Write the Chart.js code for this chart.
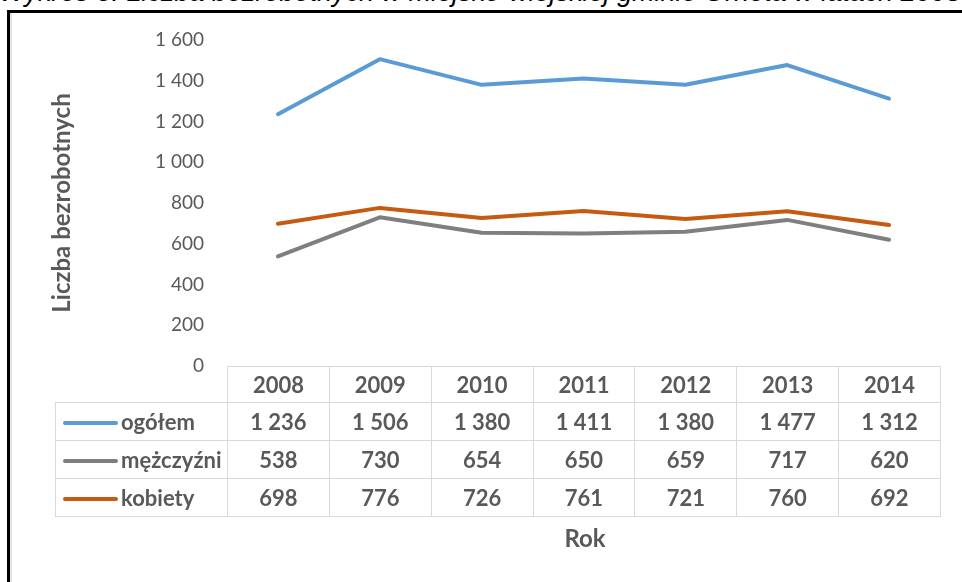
<!DOCTYPE html>
<html lang="pl">
<head>
<meta charset="utf-8">
<script src="https://cdn.jsdelivr.net/npm/chart.js@4"></script>
<style>
  body { margin:0; width:962px; height:582px; overflow:hidden; position:relative; background:#fff; font-family:Lato, sans-serif; }
  #title { position:absolute; left:-1px; top:-21px; font:italic 27px/27px "Liberation Sans", Arial, sans-serif; color:#000; white-space:nowrap; }
  #frame { position:absolute; left:7px; top:10px; width:1000px; height:620px; border-left:3px solid #000; border-top:3px solid #000; box-shadow: inset 2px 0 0 #e2e2e2; }
  #chart { position:absolute; left:0; top:0; }
  #tbl { position:absolute; left:55px; top:366px; border-collapse:collapse; table-layout:fixed; color:#595959; font-weight:700; font-size:22px; }
  #tbl td { border:1px solid #d9d9d9; text-align:center; padding:0; }
  #tbl tr.head td { height:35px; }
  #tbl tr.row td { height:37px; }
  #tbl td.lab { text-align:left; padding-left:7px; white-space:nowrap; }
  #tbl tr.head td.lab { border-top:none; border-left:none; }
  .swatch { display:inline-block; width:55px; height:4px; border-radius:2px; vertical-align:middle; margin-right:3px; position:relative; top:-1px; }
  #rok { position:absolute; left:535px; width:100px; top:523px; text-align:center; color:#595959; font-weight:700; font-size:24px; }
</style>
</head>
<body>
<div id="title">Wykres 3. Liczba bezrobotnych w miejsko-wiejskiej gminie Orneta w latach 2008–2014</div>
<div id="frame"></div>
<canvas id="chart" width="962" height="582"></canvas>
<table id="tbl"></table>
<div id="rok">Rok</div>
<script>
// dane z wykresu
const years = ['2008', '2009', '2010', '2011', '2012', '2013', '2014'];
const ogolem = [1236, 1506, 1380, 1411, 1380, 1477, 1312];
const mezczyzni = [538, 730, 654, 650, 659, 717, 620];
const kobiety = [698, 776, 726, 761, 721, 760, 692];
const seriesNames = ['ogółem', 'mężczyźni', 'kobiety'];
const seriesColors = ['#5b9bd5', '#7f7f7f', '#c55a11'];

function fmt(v) {
    // separator tysięcy: spacja
    return String(v).replace(/\B(?=(\d{3})+(?!\d))/g, ' ');
}

const allSeries = [ogolem, mezczyzni, kobiety];

// tabela danych pod wykresem
const tbl = document.getElementById('tbl');
const colW = (940 - 227) / years.length;
let html = '<colgroup><col style="width:172px">';
years.forEach(() => { html += '<col style="width:' + colW + 'px">'; });
html += '</colgroup><tr class="head"><td class="lab"></td>';
years.forEach(y => { html += '<td>' + y + '</td>'; });
html += '</tr>';
allSeries.forEach((s, i) => {
    html += '<tr class="row"><td class="lab"><span class="swatch" style="background:' + seriesColors[i] + '"></span>' + seriesNames[i] + '</td>';
    s.forEach(v => { html += '<td>' + fmt(v) + '</td>'; });
    html += '</tr>';
});
tbl.innerHTML = html;
tbl.style.width = (172 + colW * years.length) + 'px';

const ctx = document.getElementById('chart').getContext('2d');
new Chart(ctx, {
    type: 'line',
    data: {
        labels: years,
        datasets: allSeries.map((s, i) => ({
            label: seriesNames[i],
            data: s,
            borderColor: seriesColors[i],
            backgroundColor: seriesColors[i],
            borderWidth: 4,
            borderCapStyle: 'round',
            borderJoinStyle: 'round',
            pointRadius: 0,
            tension: 0
        }))
    },
    options: {
        responsive: false,
        animation: false,
        layout: { padding: { left: 0, top: 40, right: 22, bottom: 216 } },
        plugins: { legend: { display: false }, tooltip: { enabled: false } },
        scales: {
            x: { display: false, offset: true },
            y: {
                min: 0,
                max: 1600,
                ticks: {
                    stepSize: 200,
                    padding: 23,
                    color: '#595959',
                    font: { family: 'Lato', size: 19 },
                    callback: v => fmt(v)
                },
                grid: { display: false, drawTicks: false },
                border: { display: false },
                title: {
                    display: true,
                    text: 'Liczba bezrobotnych',
                    color: '#595959',
                    font: { family: 'Lato', size: 24, weight: 'bold' },
                    padding: { top: 48 }
                },
                afterFit: scale => { scale.width = 227; }
            }
        }
    }
});
</script>
</body>
</html>
